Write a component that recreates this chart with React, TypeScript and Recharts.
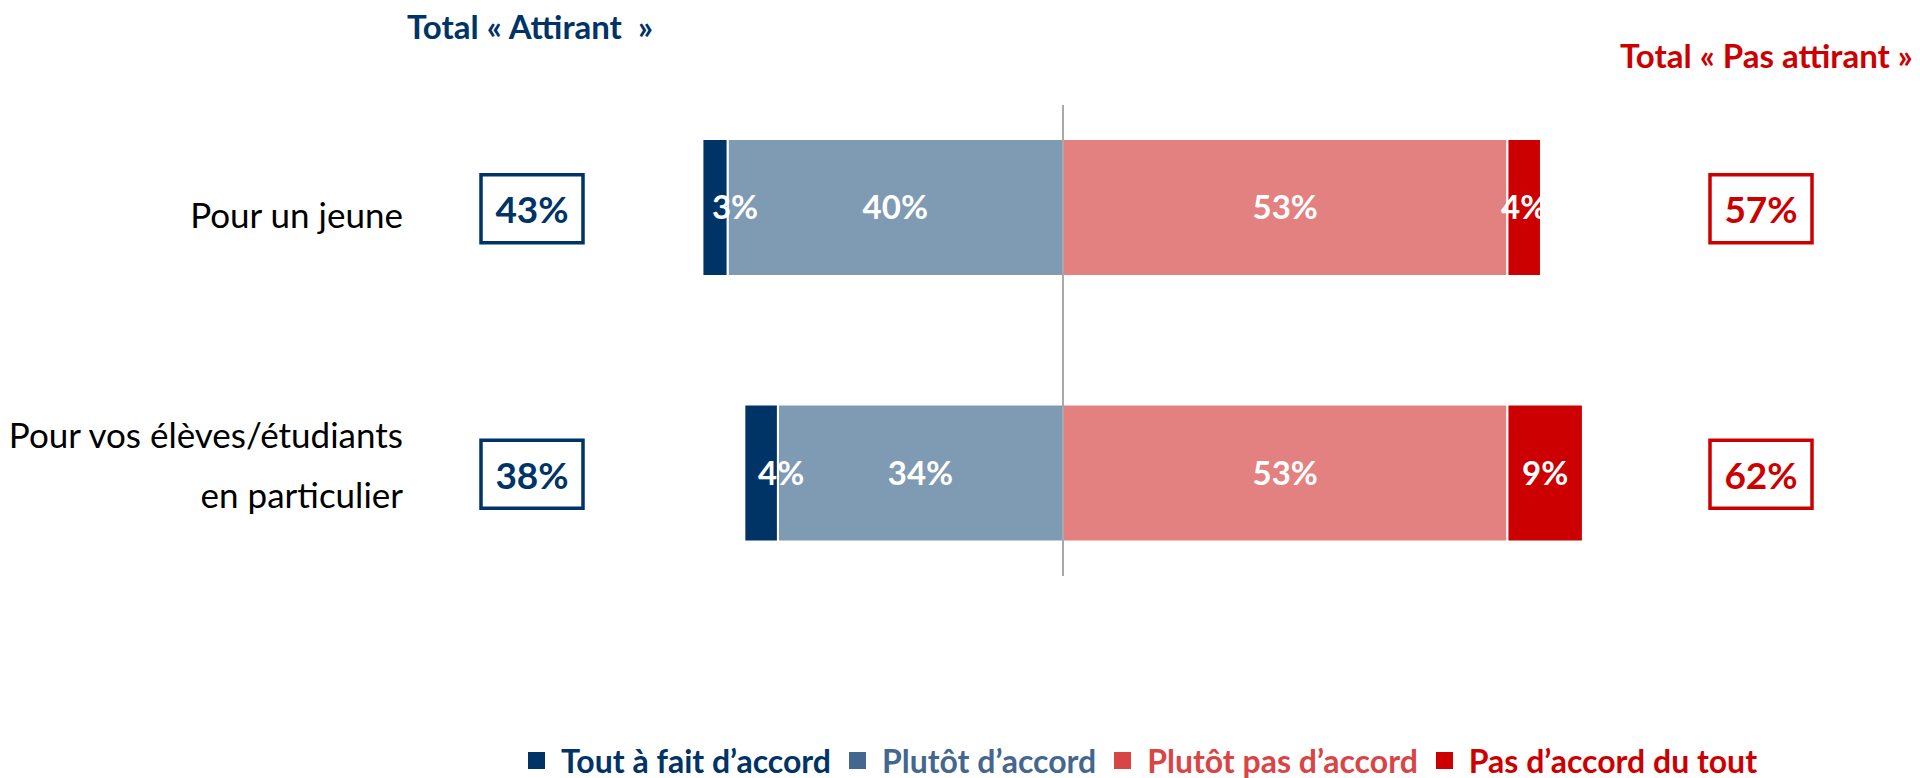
import React from 'react';
import { BarChart, Bar, XAxis, YAxis, ReferenceLine, LabelList, Legend } from 'recharts';

// categories (rows) and their wrapped tick lines
const categories = ['Pour un jeune', 'Pour vos élèves/étudiants en particulier'];
const categoryLines = [['Pour un jeune'], ['Pour vos élèves/étudiants', 'en particulier']];

// series values, in %
const toutAFait = [3, 4];
const plutotAccord = [40, 34];
const plutotPas = [53, 53];
const pasDuTout = [4, 9];

const seriesNames = ['Tout à fait d’accord', 'Plutôt d’accord', 'Plutôt pas d’accord', 'Pas d’accord du tout'];
const barColors = ['#003366', '#7f9ab3', '#e38080', '#cc0000'];
const legendColors = ['#003366', '#43678f', '#d94545', '#cc0000'];

const NAVY = '#003366';
const RED = '#cc0000';
const FONT = "Lato, 'Open Sans', sans-serif";

// left side is negative so the stack diverges from the centre line
const data = categories.map((name, i) => ({
  name,
  lines: categoryLines[i],
  plutot: -plutotAccord[i],
  tout: -toutAFait[i],
  plutotPas: plutotPas[i],
  pasDuTout: pasDuTout[i],
  attirant: toutAFait[i] + plutotAccord[i],
  pasAttirant: plutotPas[i] + pasDuTout[i],
}));

const pct = (v: any) => `${Math.abs(Number(v))}%`;

const CategoryTick = (props: any) => {
  const { x, y, payload } = props;
  const row = data.find((d) => d.name === payload.value);
  if (!row) return null;
  const n = row.lines.length;
  const lineH = 60;
  return (
    <g>
      {row.lines.map((l, i) => (
        <text
          key={i}
          x={x}
          y={y + (i - (n - 1) / 2) * lineH + (n > 1 ? -9 : 6)}
          textAnchor="end"
          dominantBaseline="central"
          fontFamily={FONT}
          fontSize={35}
          fill="#000"
        >
          {l}
        </text>
      ))}
      {/* total attirant box */}
      <rect x={x + 78} y={y - 33} width={102} height={68} fill="#fff" stroke={NAVY} strokeWidth={3.5} />
      <text x={x + 129} y={y + 1} textAnchor="middle" dominantBaseline="central" fontFamily={FONT} fontWeight={700} fontSize={37} fill={NAVY}>
        {row.attirant}%
      </text>
      {/* total pas attirant box */}
      <rect x={x + 1307} y={y - 33} width={102} height={68} fill="#fff" stroke={RED} strokeWidth={3.5} />
      <text x={x + 1358} y={y + 1} textAnchor="middle" dominantBaseline="central" fontFamily={FONT} fontWeight={700} fontSize={37} fill={RED}>
        {row.pasAttirant}%
      </text>
    </g>
  );
};

const LegendContent = () => (
  <div style={{ display: 'flex', alignItems: 'center', whiteSpace: 'nowrap', fontFamily: FONT, fontWeight: 700, fontSize: 32 }}>
    {seriesNames.map((s, i) => (
      <div key={s} style={{ display: 'flex', alignItems: 'center', marginRight: 18 }}>
        <span style={{ display: 'inline-block', width: 17, height: 17, background: legendColors[i], marginRight: 16 }} />
        <span style={{ color: legendColors[i] }}>{s}</span>
      </div>
    ))}
  </div>
);

const labelStyle = { fill: '#fff', fontFamily: FONT, fontWeight: 700, fontSize: 33 };

export default function App() {
  return (
    <div style={{ position: 'absolute', left: 0, top: 0, width: 1920, height: 778, background: '#fff', fontFamily: FONT }}>
      <div style={{ position: 'absolute', left: 407, top: 6, fontSize: 33, lineHeight: '40px', fontWeight: 700, color: NAVY, whiteSpace: 'pre' }}>
        {'Total « Attirant  »'}
      </div>
      <div style={{ position: 'absolute', left: 1620, top: 35, fontSize: 33, lineHeight: '40px', fontWeight: 700, color: RED, whiteSpace: 'pre' }}>
        Total « Pas attirant »
      </div>
      <BarChart
        width={1920}
        height={778}
        data={data}
        layout="vertical"
        stackOffset="sign"
        barSize={137}
        margin={{ top: 105, right: 270, bottom: 202, left: 0 }}
      >
        <XAxis type="number" domain={[-70, 70]} hide />
        <YAxis
          type="category"
          dataKey="name"
          width={476}
          axisLine={false}
          tickLine={false}
          tickSize={0}
          tickMargin={73}
          padding={{ top: -30, bottom: -30 }}
          tick={<CategoryTick />}
          interval={0}
        />
        <Bar dataKey="plutot" stackId="a" name={seriesNames[1]} fill={barColors[1]} stroke="#fff" strokeWidth={2} isAnimationActive={false}>
          <LabelList dataKey="plutot" position="center" formatter={pct} style={labelStyle} />
        </Bar>
        <Bar dataKey="tout" stackId="a" name={seriesNames[0]} fill={barColors[0]} stroke="#fff" strokeWidth={2} isAnimationActive={false}>
          <LabelList dataKey="tout" position="center" formatter={pct} style={labelStyle} dx={20} />
        </Bar>
        <Bar dataKey="plutotPas" stackId="a" name={seriesNames[2]} fill={barColors[2]} stroke="#fff" strokeWidth={2} isAnimationActive={false}>
          <LabelList dataKey="plutotPas" position="center" formatter={pct} style={labelStyle} />
        </Bar>
        <Bar dataKey="pasDuTout" stackId="a" name={seriesNames[3]} fill={barColors[3]} stroke="#fff" strokeWidth={2} isAnimationActive={false}>
          <LabelList dataKey="pasDuTout" position="center" formatter={pct} style={labelStyle} />
        </Bar>
        <ReferenceLine x={0} stroke="#8c8c8c" strokeWidth={1.5} />
        <Legend
          layout="horizontal"
          verticalAlign="middle"
          align="center"
          wrapperStyle={{ top: 741, left: 528, width: 1380 }}
          content={() => <LegendContent />}
        />
      </BarChart>
    </div>
  );
}
